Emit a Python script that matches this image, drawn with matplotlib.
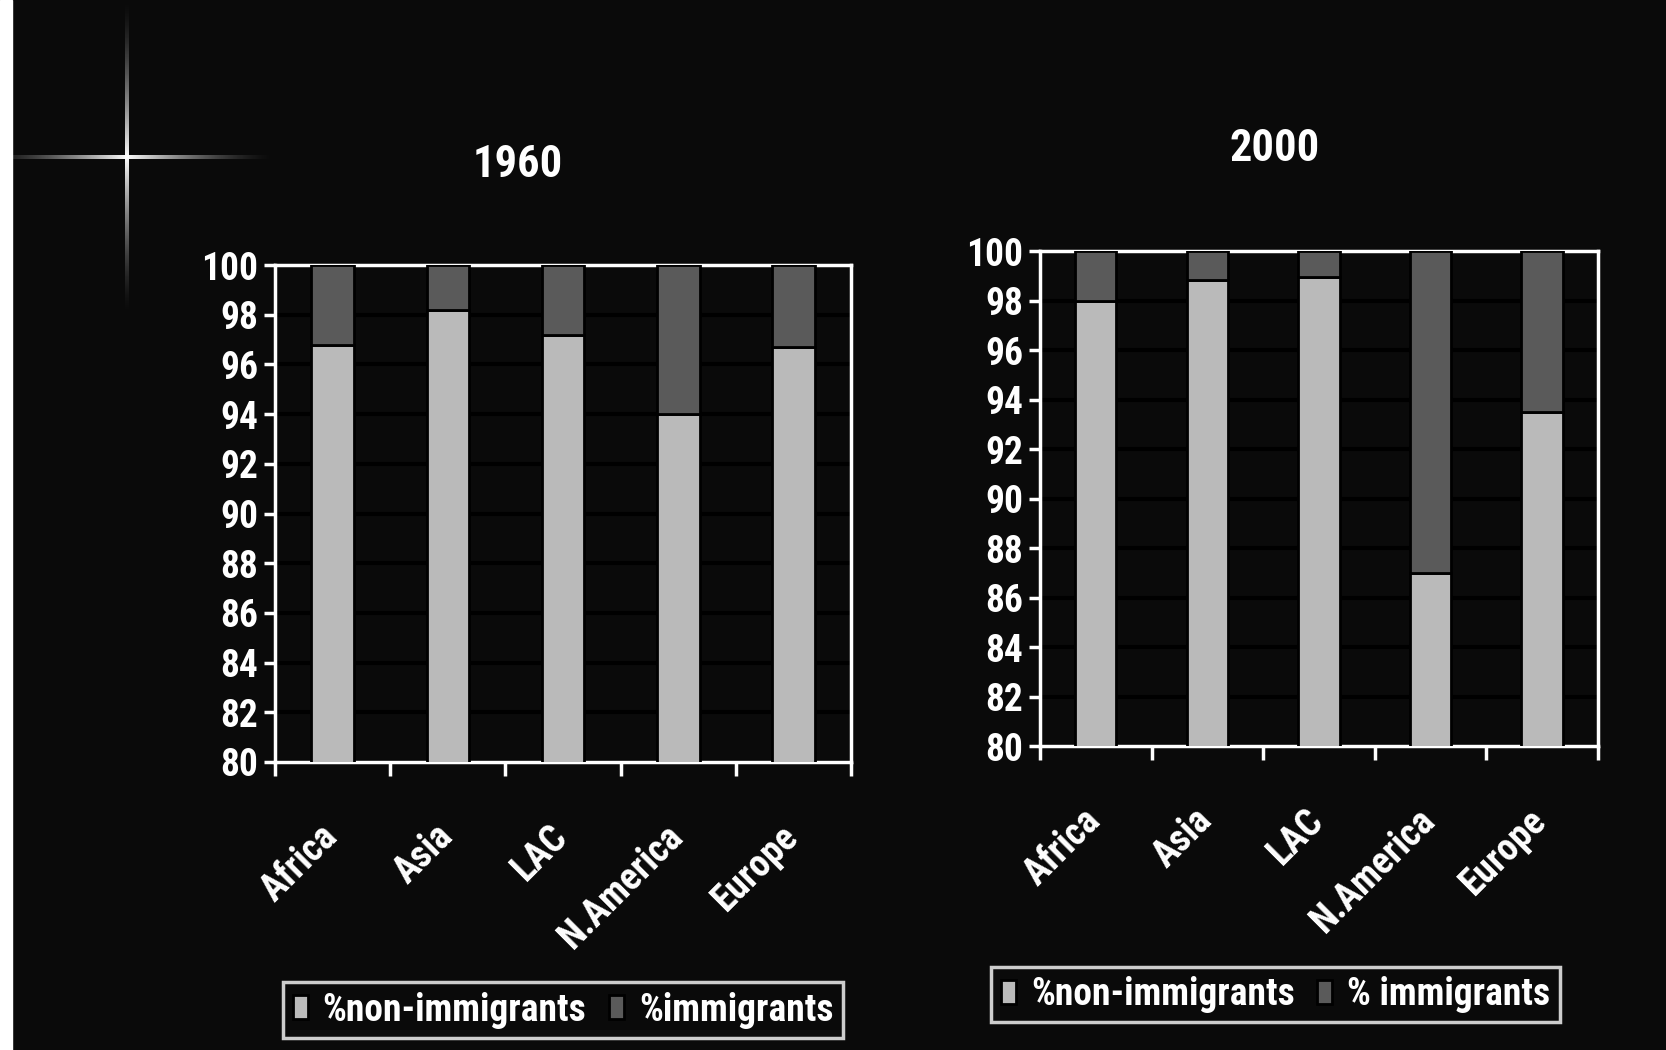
import numpy as np
import matplotlib
matplotlib.use('Agg')
import matplotlib.pyplot as plt
import matplotlib.transforms as mtransforms
from matplotlib.patches import Rectangle
from matplotlib import font_manager

# pick a condensed font if there is one
names = {f.name for f in font_manager.fontManager.ttflist}
cond = [n for n in ['Liberation Sans Narrow', 'DejaVu Sans Condensed', 'Roboto Condensed',
                    'Open Sans Condensed'] if n in names]
plt.rcParams['font.family'] = cond + ['DejaVu Sans']
plt.rcParams['font.stretch'] = 'condensed'
plt.rcParams['font.weight'] = 'bold'

# data
regions = ['Africa', 'Asia', 'LAC', 'N.America', 'Europe']
non_imm_1960 = [96.8, 98.2, 97.2, 94.0, 96.7]
imm_1960 = [3.2, 1.8, 2.8, 6.0, 3.3]
non_imm_2000 = [98.0, 98.85, 98.95, 87.0, 93.5]
imm_2000 = [2.0, 1.15, 1.05, 13.0, 6.5]
yticks = list(range(80, 101, 2))

BG = '#0a0a0a'
LIGHT = '#bababa'
DARK = '#5a5a5a'

fig = plt.figure(figsize=(16.66, 10.5), dpi=100, facecolor=BG)

# background decoration: white strip + sparkle
bg = fig.add_axes([0, 0, 1, 1], zorder=-10)
bg.axis('off')
bg.add_patch(Rectangle((0, 0), 12, 1050, color='white'))
cx, cy = 127, 157
xs = np.linspace(12, 300, 400)
a = np.clip(1 - np.abs(xs - cx) / 150, 0, 1) ** 1.6
img = np.ones((1, len(xs), 4))
img[0, :, 3] = a
bg.imshow(img, extent=(12, 300, cy + 2, cy - 2), aspect='auto', interpolation='bilinear')
ys = np.linspace(5, 320, 400)
a = np.clip(1 - np.abs(ys - cy) / 160, 0, 1) ** 1.6
img = np.ones((len(ys), 1, 4))
img[:, 0, 3] = a
bg.imshow(img, extent=(cx - 2, cx + 2, 320, 5), aspect='auto', interpolation='bilinear')
bg.set_xlim(0, 1666)
bg.set_ylim(1050, 0)


def draw(rect, non_imm, imm, imm_label, title_xy, title, leg_xy):
    ax = fig.add_axes(rect, facecolor=BG)
    x = np.arange(len(regions))
    b1 = ax.bar(x, non_imm, width=0.37, color=LIGHT, edgecolor='black', linewidth=2, zorder=3)
    b2 = ax.bar(x, imm, bottom=non_imm, width=0.37, color=DARK, edgecolor='black',
                linewidth=2, zorder=3)
    ax.set_ylim(80, 100)
    ax.set_xlim(-0.5, len(regions) - 0.5)
    ax.set_yticks(yticks)
    ax.yaxis.grid(True, color='black', linewidth=3, zorder=1)
    ax.set_axisbelow(True)
    for s in ax.spines.values():
        s.set_color('white')
        s.set_linewidth(2.5)
        s.set_zorder(2)
    ax.tick_params(axis='y', colors='white', labelsize=27, length=8, width=2.5, pad=4)
    ax.set_xticks(x)
    ax.set_xticklabels(regions, rotation=45, ha='right', rotation_mode='anchor',
                       fontsize=27, color='white')
    ax.tick_params(axis='x', which='major', length=0, pad=40)
    off = mtransforms.ScaledTranslation(-14 / 100, 0, fig.dpi_scale_trans)
    for lab in ax.get_xticklabels():
        lab.set_transform(lab.get_transform() + off)
    ax.set_xticks(np.arange(-0.5, len(regions)), minor=True)
    ax.tick_params(axis='x', which='minor', length=10, width=2.5, color='white')
    fig.text(title_xy[0], title_xy[1], title, color='white', fontsize=32,
             fontweight='bold', ha='center', va='center')
    leg = fig.legend([b1, b2], ['%non-immigrants', imm_label], loc='center',
                     bbox_to_anchor=leg_xy, ncol=2, fontsize=27, frameon=True,
                     fancybox=False, facecolor=BG, edgecolor='white',
                     handlelength=0.4, handleheight=0.6, handletextpad=0.4,
                     columnspacing=0.6, borderpad=0.25)
    leg.get_frame().set_linewidth(2.5)
    for t in leg.get_texts():
        t.set_color('white')
    return ax


draw([0.1651, 0.2743, 0.3457, 0.4733], non_imm_1960, imm_1960, '%immigrants',
     (0.311, 0.843), '1960', (0.338, 0.038))
draw([0.6242, 0.2895, 0.3349, 0.4714], non_imm_2000, imm_2000, '% immigrants',
     (0.765, 0.858), '2000', (0.7656, 0.0529))

fig.savefig('out.png', dpi=100, facecolor=BG)
